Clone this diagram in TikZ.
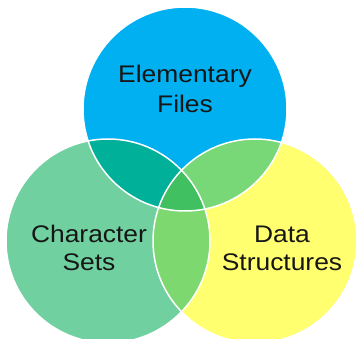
\documentclass[tikz,border=0pt]{standalone}
\usepackage{fontspec}
\setmainfont{Liberation Sans}
\definecolor{cblue}{HTML}{00B0F0}
\definecolor{cgreen}{HTML}{70D0A0}
\definecolor{cyellow}{HTML}{FFFF70}
\definecolor{cbg}{HTML}{00B098}
\definecolor{cby}{HTML}{78D878}
\definecolor{cgy}{HTML}{7ED870}
\definecolor{cbgy}{HTML}{40C060}
\definecolor{ctext}{HTML}{161616}
\begin{document}
\begin{tikzpicture}[x=1pt,y=1pt,
  lbl/.style={text=ctext,align=center,font=\fontsize{24}{30}\selectfont,xscale=1.1,transform shape,inner sep=0pt},
  rim/.style={draw=white,line width=1.5pt}]
\useasboundingbox (0,0) rectangle (356,-339);
\coordinate (B) at (185,-109);
\coordinate (G) at (108,-241);
\coordinate (Y) at (255,-241);
\def\R{102}
\fill[cblue] (B) circle (\R);
\fill[cgreen] (G) circle (\R);
\fill[cyellow] (Y) circle (\R);
\begin{scope}
  \clip (B) circle (\R);
  \fill[cbg] (G) circle (\R);
  \fill[cby] (Y) circle (\R);
\end{scope}
\begin{scope}
  \clip (G) circle (\R);
  \fill[cgy] (Y) circle (\R);
  \clip (Y) circle (\R);
  \fill[cbgy] (B) circle (\R);
\end{scope}
\draw[rim] (B) circle (\R);
\draw[rim] (G) circle (\R);
\draw[rim] (Y) circle (\R);
\node[lbl,anchor=base] (t1) at (185,-83) {Elementary};
\node[lbl,anchor=base] (t1b) at (185,-113) {Files};
\node[lbl,anchor=base] (t2) at (89,-242) {Character};
\node[lbl,anchor=base] (t2b) at (89,-270) {Sets};
\node[lbl,anchor=base] (t3) at (282,-242) {Data};
\node[lbl,anchor=base] (t3b) at (282,-270) {Structures};
\end{tikzpicture}
\end{document}
